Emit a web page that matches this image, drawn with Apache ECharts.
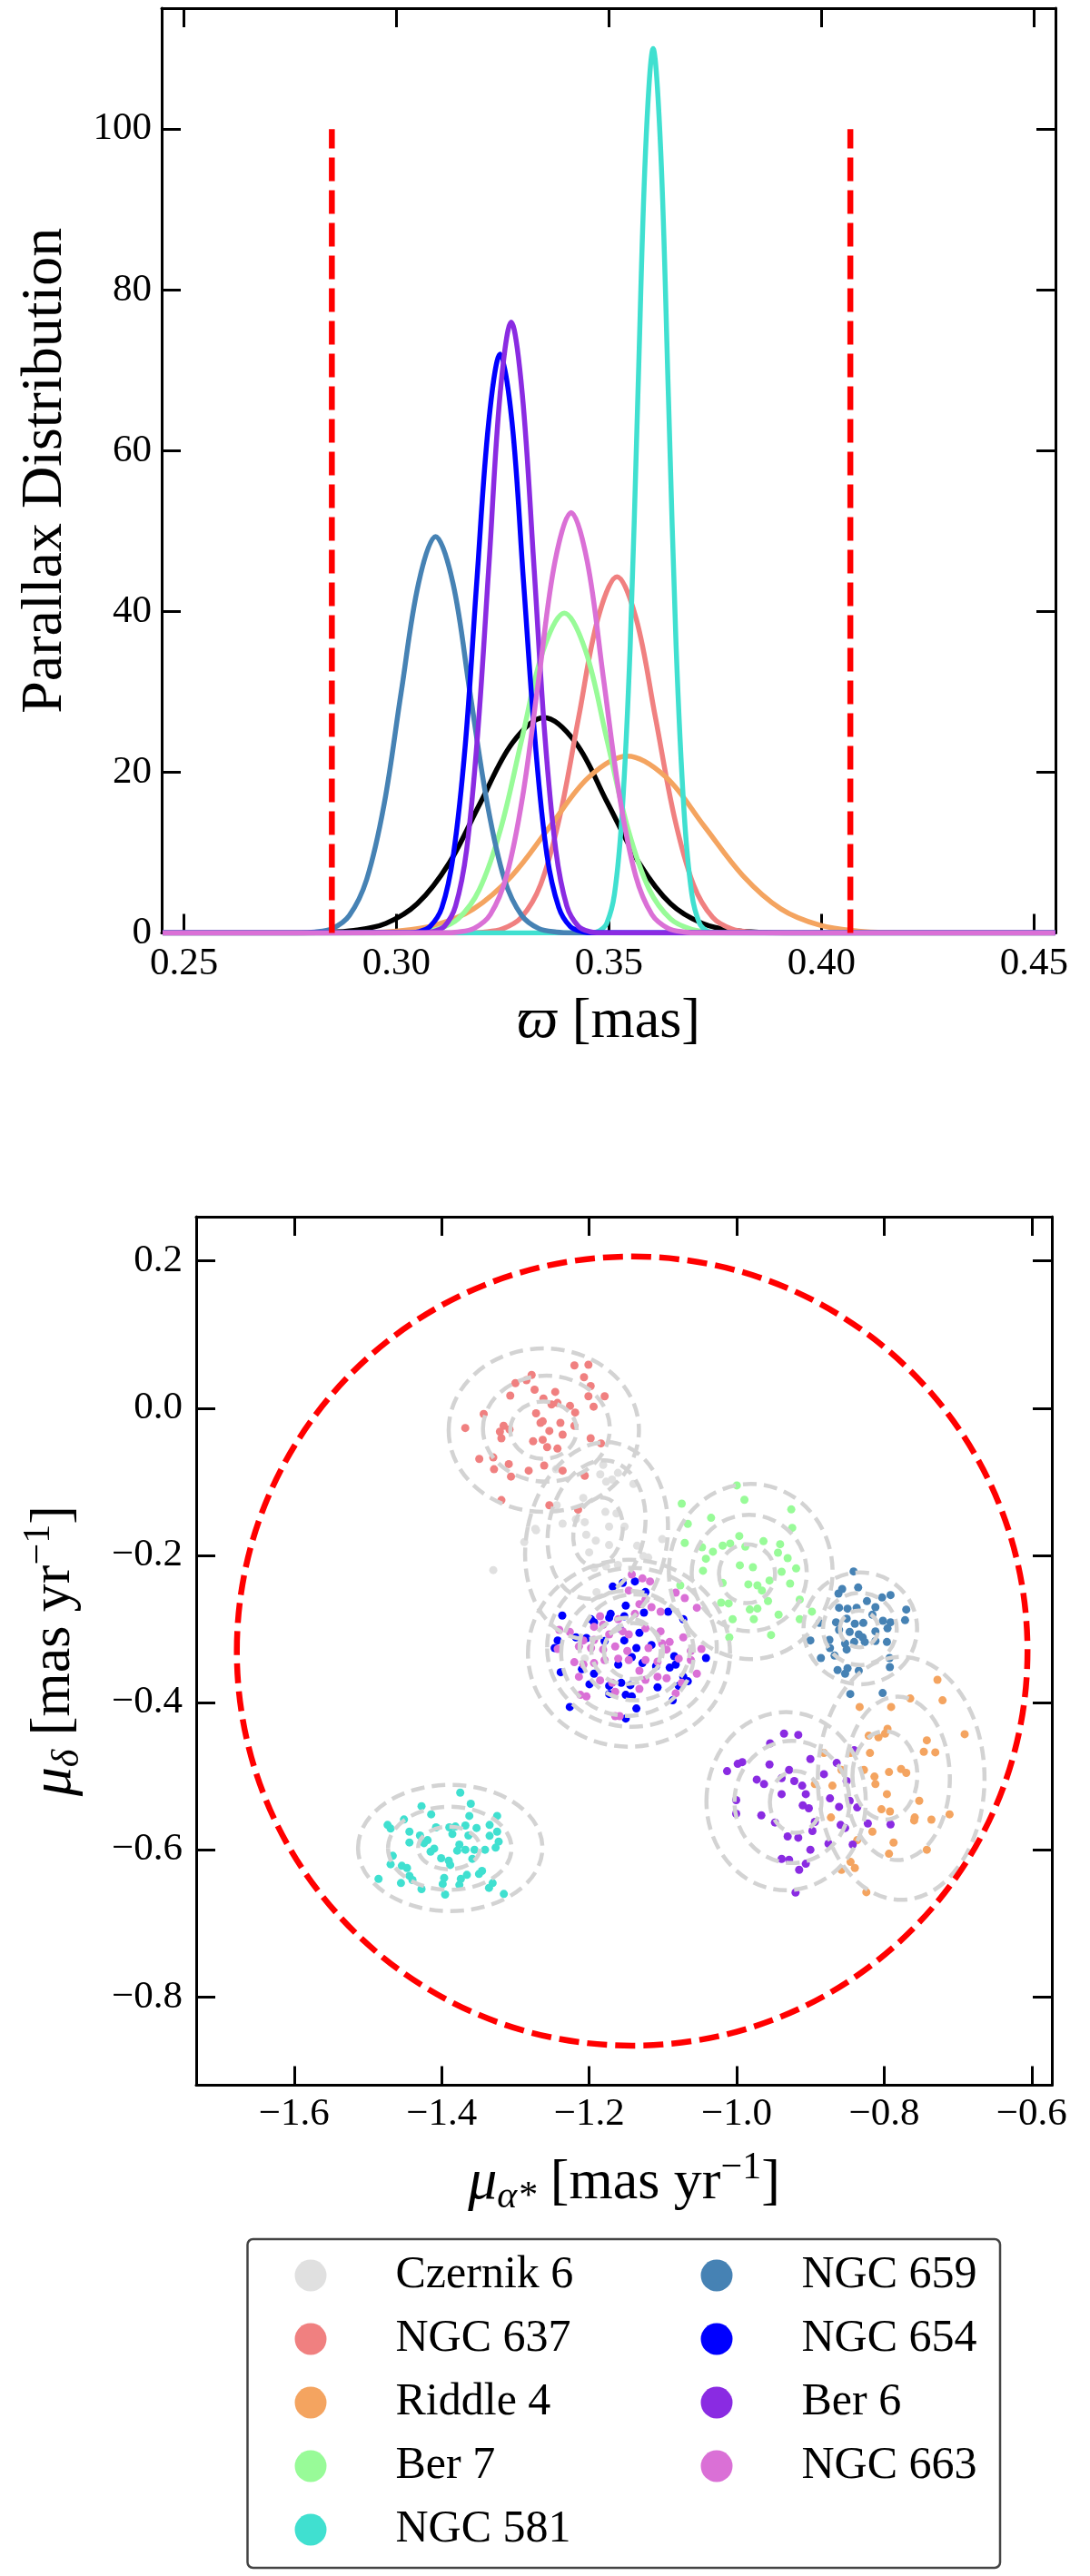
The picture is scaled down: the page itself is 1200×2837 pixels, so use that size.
<!DOCTYPE html>
<html>
<head>
<meta charset="utf-8">
<script src="https://cdn.jsdelivr.net/npm/echarts@6/dist/echarts.min.js"></script>
<style>
html,body{margin:0;padding:0;background:#fff;}
#chart{width:1200px;height:2837px;}
</style>
</head>
<body>
<div id="chart"></div>
<script>
// ---------------- DATA ----------------
const clusterNames = ['Czernik 6','NGC 637','Riddle 4','Ber 7','NGC 581','NGC 659','NGC 654','Ber 6','NGC 663'];
const clusterColors = ['#e0e0e0','#f08080','#f4a460','#98fb98','#40e0d0','#4682b4','#0000ff','#8a2be2','#da70d6'];
const curveColors = ['#000000','#f08080','#f4a460','#98fb98','#40e0d0','#4682b4','#0000ff','#8a2be2','#da70d6'];

// parallax distributions [parallax (mas), density]
const curveCzernik6 = [[0.245,0],[0.2751,0.01],[0.2826,0.06],[0.2900,0.30],[0.2975,1.18],[0.3049,3.63],[0.3124,8.70],[0.3198,16.25],[0.3273,23.65],[0.3347,26.8],[0.3422,23.65],[0.3496,16.25],[0.3571,8.70],[0.3645,3.63],[0.3720,1.18],[0.3794,0.30],[0.3869,0.06],[0.3943,0.01],[0.455,0]];
const curveNGC637 = [[0.245,0],[0.3159,0.01],[0.3204,0.10],[0.3249,0.49],[0.3294,1.94],[0.3339,5.99],[0.3384,14.4],[0.3429,26.9],[0.3474,39.1],[0.3519,44.3],[0.3564,39.1],[0.3609,26.9],[0.3654,14.4],[0.3699,5.99],[0.3744,1.94],[0.3789,0.49],[0.3834,0.10],[0.3879,0.01],[0.455,0]];
const curveRiddle4 = [[0.245,0],[0.2819,0.01],[0.2910,0.05],[0.3000,0.24],[0.3091,0.97],[0.3181,2.98],[0.3272,7.14],[0.3362,13.3],[0.3453,19.4],[0.3543,22.0],[0.3634,19.4],[0.3724,13.3],[0.3815,7.14],[0.3905,2.98],[0.3996,0.97],[0.4086,0.24],[0.4177,0.05],[0.4267,0.01],[0.455,0]];
const curveBer7 = [[0.245,0],[0.2995,0.01],[0.3045,0.09],[0.3095,0.44],[0.3145,1.75],[0.3195,5.39],[0.3245,12.9],[0.3295,24.1],[0.3345,35.1],[0.3395,39.8],[0.3445,35.1],[0.3495,24.1],[0.3545,12.9],[0.3595,5.39],[0.3645,1.75],[0.3695,0.44],[0.3745,0.09],[0.3795,0.01],[0.455,0]];
const curveNGC581 = [[0.245,0],[0.3459,0.03],[0.3477,0.24],[0.3495,1.22],[0.3513,4.83],[0.3531,14.9],[0.3550,35.7],[0.3568,66.7],[0.3586,97.1],[0.3604,110],[0.3622,97.1],[0.3640,66.7],[0.3658,35.7],[0.3677,14.9],[0.3695,4.83],[0.3713,1.22],[0.3731,0.24],[0.3749,0.03],[0.455,0]];
const curveNGC659 = [[0.245,0],[0.2768,0.01],[0.2808,0.11],[0.2849,0.55],[0.2889,2.16],[0.2930,6.67],[0.2971,16.0],[0.3011,29.9],[0.3052,43.5],[0.3092,49.3],[0.3133,43.5],[0.3173,29.9],[0.3214,16.0],[0.3254,6.67],[0.3295,2.16],[0.3335,0.55],[0.3376,0.11],[0.3416,0.01],[0.455,0]];
const curveNGC654 = [[0.245,0],[0.3024,0.02],[0.3052,0.16],[0.3079,0.80],[0.3107,3.16],[0.3134,9.74],[0.3162,23.4],[0.3189,43.7],[0.3217,63.5],[0.3244,72.0],[0.3272,63.5],[0.3299,43.7],[0.3327,23.4],[0.3354,9.74],[0.3382,3.16],[0.3409,0.80],[0.3437,0.16],[0.3464,0.02],[0.455,0]];
const curveBer6 = [[0.245,0],[0.3060,0.02],[0.3086,0.17],[0.3113,0.84],[0.3139,3.34],[0.3165,10.3],[0.3191,24.7],[0.3218,46.1],[0.3244,67.1],[0.3270,76.0],[0.3296,67.1],[0.3323,46.1],[0.3349,24.7],[0.3375,10.3],[0.3401,3.34],[0.3428,0.84],[0.3454,0.17],[0.3480,0.02],[0.455,0]];
const curveNGC663 = [[0.245,0],[0.3107,0.02],[0.3145,0.12],[0.3183,0.58],[0.3221,2.30],[0.3259,7.08],[0.3297,17.0],[0.3335,31.7],[0.3373,46.2],[0.3411,52.3],[0.3449,46.2],[0.3487,31.7],[0.3525,17.0],[0.3563,7.08],[0.3601,2.30],[0.3639,0.58],[0.3677,0.12],[0.3715,0.02],[0.455,0]];
const parallaxLimits = [0.2848, 0.4068];
const parallaxLimitHeight = 100;

// proper motions [pmra, pmdec]
const pmCzernik6 = [[-1.177,-0.100],[-1.140,-0.103],[-1.185,-0.090],[-1.161,-0.088],[-1.245,-0.083],[-1.236,-0.157],[-1.218,-0.151],[-1.206,-0.155],[-1.163,-0.143],[-1.152,-0.161],[-1.173,-0.161],[-1.272,-0.166],[-1.288,-0.182],[-1.204,-0.172],[-1.191,-0.180],[-1.173,-0.186],[-1.135,-0.187],[-1.200,-0.196],[-1.120,-0.203],[-1.101,-0.178],[-1.330,-0.220],[-1.193,-0.217],[-1.177,-0.215],[-1.161,-0.213],[-1.208,-0.122],[-1.181,-0.077],[-1.2065,-0.090],[-1.169,-0.097],[-1.273,-0.164],[-1.244,-0.132],[-1.1265,-0.201],[-1.178,-0.141],[-1.206,-0.340],[-1.190,-0.250]];
const pmNGC637 = [[-1.220,0.058],[-1.201,0.059],[-1.278,0.045],[-1.285,0.038],[-1.300,0.034],[-1.207,0.042],[-1.198,0.030],[-1.274,0.025],[-1.246,0.022],[-1.307,0.017],[-1.201,0.016],[-1.179,0.016],[-1.262,0.013],[-1.251,0.005],[-1.243,0.007],[-1.226,0.003],[-1.343,-0.008],[-1.194,0.002],[-1.272,-0.007],[-1.219,-0.006],[-1.368,-0.027],[-1.316,-0.024],[-1.308,-0.029],[-1.321,-0.032],[-1.266,-0.020],[-1.263,-0.018],[-1.239,-0.020],[-1.220,-0.024],[-1.254,-0.031],[-1.319,-0.041],[-1.276,-0.045],[-1.263,-0.043],[-1.257,-0.053],[-1.236,-0.036],[-1.198,-0.041],[-1.184,-0.048],[-1.243,-0.055],[-1.349,-0.069],[-1.330,-0.067],[-1.309,-0.076],[-1.261,-0.078],[-1.329,-0.083],[-1.282,-0.085],[-1.236,-0.085],[-1.306,-0.093],[-1.206,-0.092],[-1.319,-0.125],[-1.215,-0.138],[-1.254,-0.132]];
const pmRiddle4 = [[-0.7278,-0.3691],[-0.7209,-0.397],[-0.7647,-0.3945],[-0.7906,-0.406],[-0.8333,-0.406],[-0.6909,-0.443],[-0.7955,-0.4356],[-0.7988,-0.4422],[-0.821,-0.4451],[-0.8078,-0.4471],[-0.7422,-0.4513],[-0.7463,-0.4669],[-0.7307,-0.4677],[-0.8817,-0.4685],[-0.8456,-0.4685],[-0.8193,-0.4685],[-0.8579,-0.4915],[-0.8275,-0.4915],[-0.7935,-0.4944],[-0.7771,-0.4903],[-0.7701,-0.4956],[-0.894,-0.5108],[-0.8702,-0.5129],[-0.8132,-0.5006],[-0.8119,-0.5108],[-0.7963,-0.5244],[-0.7525,-0.5335],[-0.7114,-0.5519],[-0.8037,-0.545],[-0.7922,-0.5479],[-0.7586,-0.5561],[-0.736,-0.559],[-0.7594,-0.5602],[-0.816,-0.5754],[-0.8366,-0.5869],[-0.7873,-0.5902],[-0.7422,-0.6],[-0.7935,-0.6054],[-0.8456,-0.6165],[-0.8579,-0.6272],[-0.8398,-0.6247],[-0.8242,-0.6576],[-0.8722,-0.5561]];
const pmBer7 = [[-0.9998,-0.105],[-0.9895,-0.1245],[-1.0745,-0.1298],[-0.926,-0.1376],[-1.0347,-0.149],[-1.0663,-0.1573],[-0.9247,-0.1627],[-0.9965,-0.1738],[-1.0704,-0.1832],[-1.047,-0.189],[-1.0322,-0.1951],[-1.019,-0.1869],[-1.0088,-0.184],[-0.9883,-0.1882],[-0.9637,-0.1808],[-0.9411,-0.1849],[-0.944,-0.1964],[-0.9309,-0.2038],[-1.0417,-0.2046],[-0.9957,-0.2136],[-0.978,-0.2161],[-0.9194,-0.2178],[-1.0457,-0.221],[-0.9391,-0.2223],[-1.019,-0.2375],[-0.9842,-0.2395],[-0.9719,-0.2408],[-0.9658,-0.2478],[-0.9555,-0.2342],[-0.9276,-0.2383],[-1.0765,-0.2408],[-0.9575,-0.2621],[-1.0211,-0.2642],[-1.0109,-0.2654],[-0.9145,-0.2601],[-0.9822,-0.2736],[-0.9719,-0.2724],[-0.9432,-0.2806],[-1.0055,-0.2868],[-0.9768,-0.2868],[-0.9145,-0.2868],[-0.9534,-0.3082],[-1.01,-0.3115],[-0.898,-0.2765]];
const pmNGC581 = [[-1.3748,-0.5223],[-1.3605,-0.5375],[-1.4273,-0.5408],[-1.4142,-0.5519],[-1.3248,-0.554],[-1.4511,-0.5589],[-1.4733,-0.5663],[-1.4692,-0.5712],[-1.3625,-0.554],[-1.3678,-0.5671],[-1.4076,-0.5696],[-1.3896,-0.5696],[-1.3814,-0.5684],[-1.3527,-0.5704],[-1.335,-0.5663],[-1.4437,-0.5754],[-1.4294,-0.5807],[-1.3248,-0.5754],[-1.335,-0.5811],[-1.4437,-0.5901],[-1.4191,-0.5869],[-1.3855,-0.5786],[-1.3637,-0.5807],[-1.424,-0.591],[-1.376,-0.593],[-1.3789,-0.6012],[-1.3678,-0.6],[-1.3555,-0.6],[-1.3412,-0.6],[-1.3268,-0.5971],[-1.3227,-0.5889],[-1.415,-0.6025],[-1.4101,-0.5984],[-1.4007,-0.6115],[-1.3904,-0.6148],[-1.3584,-0.6123],[-1.4663,-0.6082],[-1.4692,-0.6197],[-1.454,-0.6218],[-1.447,-0.6247],[-1.3884,-0.6206],[-1.4437,-0.6354],[-1.4396,-0.6411],[-1.4856,-0.6395],[-1.4552,-0.6452],[-1.4273,-0.6534],[-1.3966,-0.6382],[-1.3986,-0.6465],[-1.3658,-0.6341],[-1.374,-0.6395],[-1.376,-0.6477],[-1.3494,-0.6329],[-1.3453,-0.6288],[-1.3309,-0.6452],[-1.3358,-0.6518],[-1.3953,-0.6608],[-1.3157,-0.66]];
const pmNGC659 = [[-0.8415,-0.2219],[-0.857,-0.2458],[-0.8353,-0.2437],[-0.862,-0.2519],[-0.7914,-0.254],[-0.8029,-0.2573],[-0.8234,-0.2622],[-0.8119,-0.2704],[-0.8612,-0.2712],[-0.8497,-0.2725],[-0.8374,-0.2712],[-0.7701,-0.2737],[-0.816,-0.2807],[-0.7717,-0.2881],[-0.8878,-0.2918],[-0.8653,-0.291],[-0.8509,-0.286],[-0.8398,-0.293],[-0.8283,-0.2918],[-0.8017,-0.2889],[-0.7914,-0.291],[-0.8612,-0.3012],[-0.8468,-0.3041],[-0.8345,-0.3074],[-0.8292,-0.3115],[-0.8119,-0.3033],[-0.7955,-0.2992],[-0.9001,-0.3156],[-0.8743,-0.3148],[-0.853,-0.3197],[-0.8407,-0.3177],[-0.8263,-0.3177],[-0.8119,-0.3164],[-0.7963,-0.3177],[-0.8735,-0.3259],[-0.8509,-0.328],[-0.8673,-0.3362],[-0.8858,-0.3395],[-0.7927,-0.3395],[-0.8632,-0.3559],[-0.8497,-0.3534],[-0.8345,-0.3567],[-0.7923,-0.3518],[-0.853,-0.3608],[-0.846,-0.3884],[-0.8021,-0.3871]];
const pmNGC654 = [[-1.1545,-0.2375],[-1.138,-0.2355],[-1.168,-0.2425],[-1.1237,-0.2499],[-1.1504,-0.2684],[-1.1257,-0.2778],[-1.1709,-0.2795],[-1.2365,-0.2819],[-1.1975,-0.2869],[-1.1729,-0.2848],[-1.1524,-0.2827],[-1.0929,-0.2766],[-1.0724,-0.2869],[-1.1586,-0.2992],[-1.1319,-0.3053],[-1.2427,-0.3156],[-1.2468,-0.3259],[-1.2037,-0.3123],[-1.1791,-0.3164],[-1.1524,-0.3156],[-1.136,-0.3259],[-1.1155,-0.3218],[-1.0847,-0.337],[-1.0416,-0.3395],[-1.2386,-0.3588],[-1.2098,-0.3547],[-1.1934,-0.3608],[-1.1606,-0.3485],[-1.1422,-0.3382],[-1.1278,-0.3464],[-1.1093,-0.3506],[-1.0908,-0.3526],[-1.0827,-0.3485],[-1.0724,-0.3649],[-1.0663,-0.3711],[-1.1996,-0.3752],[-1.1729,-0.3773],[-1.1565,-0.3732],[-1.1442,-0.3764],[-1.1073,-0.3793],[-1.0786,-0.3773],[-1.0868,-0.397],[-1.1422,-0.3917],[-1.1504,-0.3896],[-1.1729,-0.3884],[-1.2263,-0.406],[-1.136,-0.4081],[-1.1504,-0.4217],[-1.1934,-0.291],[-1.218,-0.3115]];
const pmBer6 = [[-0.9358,-0.4422],[-0.9165,-0.4439],[-0.9547,-0.4554],[-0.8407,-0.4648],[-0.9924,-0.4809],[-0.9986,-0.4833],[-0.9555,-0.4841],[-0.9001,-0.4767],[-0.8644,-0.4821],[-1.013,-0.4932],[-0.9728,-0.5047],[-0.9629,-0.5108],[-0.9391,-0.5026],[-0.9289,-0.4915],[-0.9219,-0.5067],[-0.9112,-0.5129],[-0.9063,-0.5244],[-0.8817,-0.4973],[-0.8509,-0.5067],[-0.9391,-0.5244],[-1.0007,-0.5326],[-0.9104,-0.5396],[-0.9022,-0.5437],[-0.8735,-0.5302],[-0.8612,-0.5417],[-0.8468,-0.5335],[-0.8366,-0.5425],[-1.0007,-0.5511],[-0.9666,-0.5532],[-0.9481,-0.563],[-0.894,-0.5622],[-0.8591,-0.5663],[-0.853,-0.5704],[-0.8222,-0.5643],[-0.7914,-0.5655],[-0.9309,-0.5819],[-0.9165,-0.5836],[-0.8973,-0.5745],[-0.8755,-0.5918],[-0.9001,-0.6],[-0.9391,-0.6124],[-0.9289,-0.6136],[-0.9153,-0.6272],[-0.9063,-0.619],[-0.9202,-0.658],[-0.8427,-0.593]];
const pmNGC663 = [[-1.1422,-0.226],[-1.1278,-0.2314],[-1.1175,-0.2355],[-1.1463,-0.2478],[-1.1237,-0.2601],[-1.1319,-0.2663],[-1.1155,-0.2704],[-1.0827,-0.2507],[-1.0704,-0.2581],[-1.054,-0.2712],[-1.1032,-0.2766],[-1.138,-0.2795],[-1.1852,-0.2827],[-1.1811,-0.2942],[-1.1606,-0.2869],[-1.1934,-0.2971],[-1.2406,-0.3012],[-1.2263,-0.3041],[-1.2078,-0.3156],[-1.1934,-0.3148],[-1.1729,-0.3074],[-1.1545,-0.3033],[-1.1463,-0.3074],[-1.1237,-0.2992],[-1.1032,-0.3033],[-1.0909,-0.3177],[-1.0724,-0.3115],[-1.2427,-0.3271],[-1.2139,-0.3238],[-1.1975,-0.3259],[-1.1811,-0.328],[-1.1647,-0.3238],[-1.1483,-0.33],[-1.1196,-0.3259],[-1.1011,-0.3197],[-1.095,-0.328],[-1.0622,-0.33],[-1.0478,-0.3271],[-1.2201,-0.3452],[-1.2078,-0.3485],[-1.1934,-0.3464],[-1.1791,-0.3423],[-1.1606,-0.3403],[-1.1463,-0.3423],[-1.1237,-0.3423],[-1.1073,-0.3444],[-1.0786,-0.3403],[-1.0622,-0.3423],[-1.054,-0.3608],[-1.2139,-0.365],[-1.1852,-0.3699],[-1.1688,-0.3732],[-1.1319,-0.3567],[-1.1237,-0.3691],[-1.1073,-0.365],[-1.095,-0.367],[-1.0745,-0.3732],[-1.2119,-0.3896],[-1.2037,-0.3917],[-1.1647,-0.3855],[-1.1319,-0.3814],[-1.0827,-0.3875],[-1.1647,-0.4184],[-1.1586,-0.4184]];

// density contours [center pmra, center pmdec, half-width, half-height, rotation]
const contourCzernik6 = [[-1.19,-0.18,0.095,0.135,-0.2],[-1.19,-0.165,0.065,0.095,-0.2],[-1.188,-0.168,0.033,0.047,-0.2]];
const contourNGC637 = [[-1.2615,-0.030,0.129,0.111,0],[-1.258,-0.028,0.086,0.072,0],[-1.262,-0.030,0.045,0.039,0]];
const contourRiddle4 = [[-0.777,-0.503,0.113,0.165,0],[-0.782,-0.503,0.071,0.111,0],[-0.799,-0.499,0.044,0.060,0]];
const contourBer7 = [[-0.981,-0.222,0.111,0.119,0],[-0.983,-0.224,0.078,0.079,0],[-0.986,-0.225,0.038,0.040,0]];
const contourNGC581 = [[-1.3884,-0.5976,0.125,0.0857,0],[-1.389,-0.598,0.0837,0.0565,0],[-1.390,-0.5976,0.042,0.029,0]];
const contourNGC659 = [[-0.8324,-0.2992,0.077,0.076,0],[-0.833,-0.300,0.050,0.049,0],[-0.834,-0.300,0.026,0.025,0]];
const contourNGC654 = [[-1.146,-0.333,0.137,0.127,0],[-1.148,-0.333,0.090,0.085,0],[-1.150,-0.330,0.047,0.045,0]];
const contourBer6 = [[-0.933,-0.534,0.108,0.121,0],[-0.925,-0.535,0.078,0.083,0],[-0.920,-0.535,0.035,0.042,0]];
const contourNGC663 = [[-1.142,-0.325,0.115,0.108,0],[-1.138,-0.325,0.075,0.072,0],[-1.140,-0.330,0.040,0.038,0]];
const selectionCircle = [[-1.1417,-0.3301,0.536,0.536,0]];

// axes
const parallaxTicks = [0.25,0.30,0.35,0.40,0.45];
const densityTicks = [0,20,40,60,80,100];
const pmraTicks = [-1.6,-1.4,-1.2,-1.0,-0.8,-0.6];
const pmdecTicks = [0.2,0.0,-0.2,-0.4,-0.6,-0.8];
const parallaxRange = [0.24476,0.45507];
const densityRange = [0,115.04];
const pmraRange = [-1.7328,-0.5727];
const pmdecRange = [-0.920,0.260];

// ---------------- CHART ----------------
const curves = [curveCzernik6,curveNGC637,curveRiddle4,curveBer7,curveNGC581,curveNGC659,curveNGC654,curveBer6,curveNGC663];
const pms = [pmCzernik6,pmNGC637,pmRiddle4,pmBer7,pmNGC581,pmNGC659,pmNGC654,pmBer6,pmNGC663];
const contours = [].concat(contourCzernik6,contourNGC637,contourRiddle4,contourBer7,contourNGC581,contourNGC659,contourNGC654,contourBer6,contourNGC663);

const SERIF = 'Liberation Serif';
const fmtMinus = (v,d) => { const s = Number(v).toFixed(d); return s.replace('-', '\u2212'); };

function frameAxis(extra){
  return Object.assign({
    type:'value',
    axisLine:{show:true,onZero:false,lineStyle:{color:'#000',width:3}},
    splitLine:{show:false},
  }, extra);
}

function ellipseRenderer(stroke, width, dash){
  return function(params, api){
    const c = api.coord([api.value(0), api.value(1)]);
    const s = api.size([api.value(2), api.value(3)], [api.value(0), api.value(1)]);
    return {
      type:'ellipse',
      shape:{cx:c[0], cy:c[1], rx:s[0], ry:s[1]},
      rotation: api.value(4),
      originX: c[0], originY: c[1],
      style:{fill:'none', stroke:stroke, lineWidth:width, lineDash:dash}
    };
  };
}

const tickLabelStyle = {fontFamily:SERIF, fontSize:43, color:'#000'};
const nameStyle = {fontFamily:SERIF, fontSize:62, color:'#000'};
const richMath = {
  i:{fontFamily:SERIF, fontSize:64, fontStyle:'italic', color:'#000'},
  sub:{fontFamily:SERIF, fontSize:42, fontStyle:'italic', color:'#000', padding:[30,0,0,0]},
  sup:{fontFamily:SERIF, fontSize:42, color:'#000', padding:[0,0,34,0]},
  n:{fontFamily:SERIF, fontSize:62, color:'#000'}
};

const series = [];
curves.forEach((c,i)=>{
  series.push({
    name: clusterNames[i] + ' parallax',
    type:'line', xAxisIndex:0, yAxisIndex:0,
    data:c, showSymbol:false, smooth:0.35, z:3,
    lineStyle:{color:curveColors[i], width:5.5},
    itemStyle:{color:curveColors[i]}
  });
});
parallaxLimits.forEach((x,i)=>{
  series.push({
    name:'limit'+i, type:'line', xAxisIndex:0, yAxisIndex:0,
    data:[[x,0],[x,parallaxLimitHeight]], showSymbol:false, z:4,
    lineStyle:{color:'#ff0000', width:6.5, type:[26,10], cap:'butt'}
  });
});
pms.forEach((p,i)=>{
  series.push({
    name: clusterNames[i], type:'scatter', xAxisIndex:2, yAxisIndex:2,
    data:p, symbol:'circle', symbolSize:9,
    itemStyle:{color:clusterColors[i], opacity:1},
    z:2
  });
});
series.push({
  name:'contours', type:'custom', xAxisIndex:2, yAxisIndex:2,
  data:contours, renderItem: ellipseRenderer('#d3d3d3', 4.5, [15,8]), z:5, silent:true
});
series.push({
  name:'selection', type:'custom', xAxisIndex:2, yAxisIndex:2,
  data:selectionCircle, renderItem: ellipseRenderer('#ff0000', 6.5, [22,9]), z:6, silent:true
});

const legendCommon = {
  orient:'vertical', icon:'circle', itemWidth:35, itemHeight:35, itemGap:20, padding:0,
  textStyle:{fontFamily:SERIF, fontSize:50, color:'#000', lineHeight:50, padding:[0,0,0,71]},
  selectedMode:false
};

const option = {
  backgroundColor:'#fff',
  animation:false,
  textStyle:{fontFamily:SERIF},
  grid:[
    {left:178, top:9, width:984, height:1018.5},
    {left:216, top:1340, width:942, height:956.6}
  ],
  xAxis:[
    frameAxis({gridIndex:0, position:'bottom', min:parallaxRange[0], max:parallaxRange[1],
      axisTick:{show:true, inside:true, length:21, lineStyle:{width:3,color:'#000'}, customValues:parallaxTicks},
      axisLabel:{show:true, margin:13, customValues:parallaxTicks, formatter:v=>Number(v).toFixed(2), ...tickLabelStyle},
      name:'{i|\u03D6} [mas]', nameLocation:'middle', nameGap:66,
      nameTextStyle:Object.assign({}, nameStyle, {rich:richMath})}),
    frameAxis({gridIndex:0, position:'top', min:parallaxRange[0], max:parallaxRange[1],
      axisTick:{show:true, inside:true, length:21, lineStyle:{width:3,color:'#000'}, customValues:parallaxTicks},
      axisLabel:{show:false}}),
    frameAxis({gridIndex:1, position:'bottom', min:pmraRange[0], max:pmraRange[1],
      axisTick:{show:true, inside:true, length:21, lineStyle:{width:3,color:'#000'}, customValues:pmraTicks},
      axisLabel:{show:true, margin:11, customValues:pmraTicks, formatter:v=>fmtMinus(v,1), ...tickLabelStyle},
      name:'{i|\u03BC}{sub|\u03B1*} [mas yr{sup|\u22121}]', nameLocation:'middle', nameGap:70,
      nameTextStyle:Object.assign({}, nameStyle, {rich:richMath})}),
    frameAxis({gridIndex:1, position:'top', min:pmraRange[0], max:pmraRange[1],
      axisTick:{show:true, inside:true, length:21, lineStyle:{width:3,color:'#000'}, customValues:pmraTicks},
      axisLabel:{show:false}})
  ],
  yAxis:[
    frameAxis({gridIndex:0, position:'left', min:densityRange[0], max:densityRange[1],
      axisTick:{show:true, inside:true, length:21, lineStyle:{width:3,color:'#000'}, customValues:densityTicks},
      axisLabel:{show:true, margin:11, customValues:densityTicks, formatter:v=>String(Math.round(v)), ...tickLabelStyle},
      name:'Parallax Distribution', nameLocation:'middle', nameGap:96, nameRotate:90,
      nameTextStyle:Object.assign({}, nameStyle, {fontSize:64})}),
    frameAxis({gridIndex:0, position:'right', min:densityRange[0], max:densityRange[1],
      axisTick:{show:true, inside:true, length:21, lineStyle:{width:3,color:'#000'}, customValues:densityTicks},
      axisLabel:{show:false}}),
    frameAxis({gridIndex:1, position:'left', min:pmdecRange[0], max:pmdecRange[1],
      axisTick:{show:true, inside:true, length:21, lineStyle:{width:3,color:'#000'}, customValues:pmdecTicks},
      axisLabel:{show:true, margin:15, customValues:pmdecTicks, formatter:v=>fmtMinus(v,1), ...tickLabelStyle},
      name:'{i|\u03BC}{sub|\u03B4} [mas yr{sup|\u22121}]', nameLocation:'middle', nameGap:118, nameRotate:90,
      nameTextStyle:Object.assign({}, nameStyle, {rich:richMath})}),
    frameAxis({gridIndex:1, position:'right', min:pmdecRange[0], max:pmdecRange[1],
      axisTick:{show:true, inside:true, length:21, lineStyle:{width:3,color:'#000'}, customValues:pmdecTicks},
      axisLabel:{show:false}})
  ],
  legend:[
    Object.assign({}, legendCommon, {left:324.5, top:2481, data:clusterNames.slice(0,5)}),
    Object.assign({}, legendCommon, {left:771.5, top:2481, data:clusterNames.slice(5)})
  ],
  graphic:[
    {type:'rect', shape:{x:272.5, y:2466, width:828.5, height:362, r:6}, style:{fill:'none', stroke:'#444', lineWidth:2.5}, silent:true}
  ],
  series:series
};

const chart = echarts.init(document.getElementById('chart'), null, {renderer:'canvas'});
chart.setOption(option);
</script>
</body>
</html>
